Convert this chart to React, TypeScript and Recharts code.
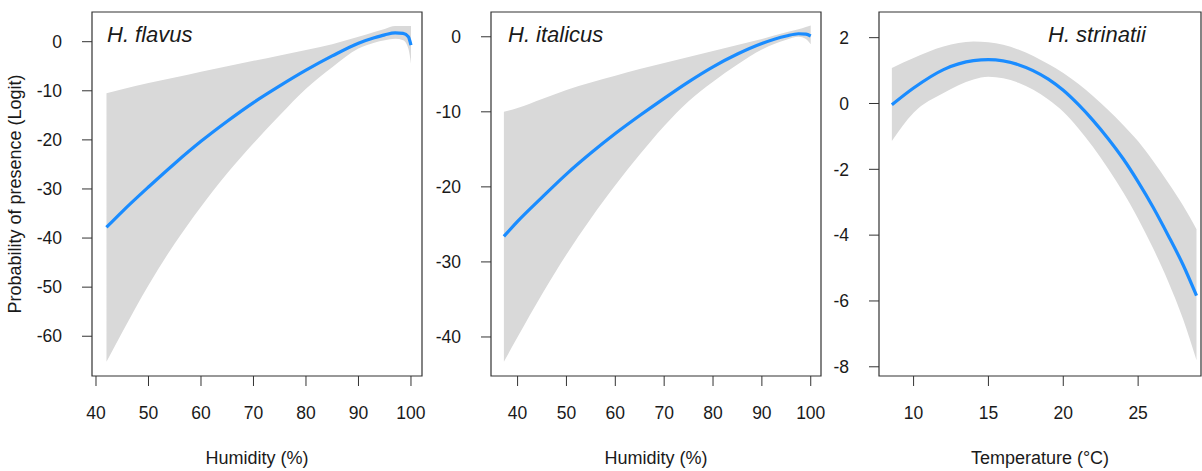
import React from 'react';
import { ComposedChart, Area, Line, XAxis, YAxis, ReferenceArea } from 'recharts';

// H. flavus vs humidity
const flavusHumidity = [42, 45, 50, 55, 60, 65, 70, 75, 80, 85, 90, 93, 95, 97, 98.5, 99.5, 100];
const flavusFit = [-37.8, -34.6, -29.6, -24.8, -20.3, -16.2, -12.4, -9.0, -5.8, -2.9, -0.3, 0.8, 1.4, 1.8, 1.7, 1.0, -0.7];
const flavusLower = [-65.2, -59.2, -49.6, -41.1, -33.6, -26.8, -20.7, -15.0, -9.6, -5.2, -1.4, -0.2, 0.3, 0.6, 0.3, -1.4, -4.5];
const flavusUpper = [-10.5, -9.7, -8.4, -7.3, -6.1, -5.0, -3.9, -2.8, -1.7, -0.5, 1.0, 2.0, 2.6, 3.2, 3.2, 3.2, 3.2];

// H. italicus vs humidity
const italicusHumidity = [37.2, 40, 45, 50, 55, 60, 65, 70, 75, 80, 85, 90, 95, 97.5, 99, 100];
const italicusFit = [-26.6, -24.6, -21.4, -18.3, -15.5, -12.9, -10.5, -8.2, -6.0, -4.0, -2.3, -0.9, 0.1, 0.4, 0.35, 0.1];
const italicusLower = [-43.3, -40.0, -34.3, -29.0, -24.2, -19.8, -15.7, -11.9, -8.6, -6.0, -3.7, -1.7, -0.4, 0.0, -0.3, -1.0];
const italicusUpper = [-10.0, -9.5, -8.3, -7.1, -6.1, -5.2, -4.3, -3.5, -2.7, -1.9, -1.1, -0.3, 0.6, 1.0, 1.3, 1.5];

// H. strinatii vs temperature
const strinatiiTemp = [8.55, 10, 12, 14, 15, 17, 19, 20, 21, 22, 23, 24, 25, 26, 27, 28, 28.9];
const strinatiiFit = [-0.04, 0.47, 1.03, 1.3, 1.33, 1.18, 0.74, 0.4, -0.03, -0.52, -1.07, -1.68, -2.38, -3.15, -4.0, -4.9, -5.84];
const strinatiiLower = [-1.14, -0.28, 0.32, 0.73, 0.81, 0.63, 0.12, -0.25, -0.75, -1.33, -1.98, -2.7, -3.5, -4.4, -5.4, -6.55, -7.8];
const strinatiiUpper = [1.08, 1.38, 1.73, 1.88, 1.86, 1.64, 1.2, 0.93, 0.6, 0.22, -0.2, -0.65, -1.15, -1.75, -2.4, -3.1, -3.82];

const humidityTicks = [40, 50, 60, 70, 80, 90, 100];
const tempTicks = [10, 15, 20, 25];
const flavusYTicks = [-60, -50, -40, -30, -20, -10, 0];
const italicusYTicks = [-40, -30, -20, -10, 0];
const strinatiiYTicks = [-8, -6, -4, -2, 0, 2];

const FONT = '"Liberation Sans", Arial, Helvetica, sans-serif';
const INK = '#1a1a1a';
const AXIS = '#333';
const BAND = '#d9d9d9';
const LINE = '#1a8cff';

interface PanelProps {
  x: number[];
  fit: number[];
  lower: number[];
  upper: number[];
  left: number;
  width: number;
  yAxisWidth: number;
  marginRight: number;
  xDomain: [number, number];
  yDomain: [number, number];
  xTicks: number[];
  yTicks: number[];
  xLabel: string;
  yLabel?: string;
  title: string;
  titleX: number;
}

const Panel: React.FC<PanelProps> = (p) => {
  const rows = p.x.map((v, i) => ({
    x: v,
    fit: p.fit[i],
    band: [p.lower[i], p.upper[i]],
  }));

  const tickStyle = { fill: INK, fontSize: 17.5, fontFamily: FONT };

  return (
    <div style={{ position: 'absolute', left: p.left, top: 0, width: p.width, height: 471 }}>
      <ComposedChart
        width={p.width}
        height={471}
        data={rows}
        margin={{ top: 12, right: p.marginRight, bottom: 0, left: 0 }}
      >
        <XAxis
          dataKey="x"
          type="number"
          domain={p.xDomain}
          ticks={p.xTicks}
          allowDataOverflow
          axisLine={false}
          tickLine={{ stroke: AXIS }}
          tickSize={10}
          tickMargin={21}
          height={95}
          tick={tickStyle}
          label={{ value: p.xLabel, position: 'insideBottom', offset: 7, fill: INK, fontSize: 18, fontFamily: FONT }}
        />
        <YAxis
          type="number"
          domain={p.yDomain}
          ticks={p.yTicks}
          allowDataOverflow
          axisLine={false}
          tickLine={{ stroke: AXIS }}
          tickSize={10}
          tickMargin={20}
          width={p.yAxisWidth}
          tick={tickStyle}
          label={
            p.yLabel
              ? {
                  value: p.yLabel,
                  angle: -90,
                  position: 'insideLeft',
                  offset: 15,
                  fill: INK,
                  fontSize: 18,
                  fontFamily: FONT,
                  style: { textAnchor: 'middle' },
                }
              : undefined
          }
        />
        <Area
          dataKey="band"
          type="monotone"
          fill={BAND}
          fillOpacity={1}
          stroke="none"
          dot={false}
          activeDot={false}
          isAnimationActive={false}
        />
        <Line
          dataKey="fit"
          type="monotone"
          stroke={LINE}
          strokeWidth={3.2}
          dot={false}
          activeDot={false}
          isAnimationActive={false}
        />
        <ReferenceArea
          x1={p.xDomain[0]}
          x2={p.xDomain[1]}
          y1={p.yDomain[0]}
          y2={p.yDomain[1]}
          fill="none"
          stroke={AXIS}
          strokeWidth={1.2}
          ifOverflow="visible"
        />
      </ComposedChart>
      <span
        style={{
          position: 'absolute',
          left: p.titleX - p.left,
          top: 24,
          fontFamily: FONT,
          fontStyle: 'italic',
          fontSize: 22,
          lineHeight: 1,
          color: INK,
          whiteSpace: 'nowrap',
        }}
      >
        {p.title}
      </span>
    </div>
  );
};

export default function App() {
  return (
    <div style={{ position: 'absolute', left: 0, top: 0, width: 1202, height: 471, background: '#fff' }}>
      <Panel
        x={flavusHumidity}
        fit={flavusFit}
        lower={flavusLower}
        upper={flavusUpper}
        left={0}
        width={430}
        yAxisWidth={92}
        marginRight={8}
        xDomain={[39.24, 102.1]}
        yDomain={[-68.1, 6.05]}
        xTicks={humidityTicks}
        yTicks={flavusYTicks}
        xLabel="Humidity (%)"
        yLabel="Probability of presence (Logit)"
        title="H. flavus"
        titleX={107}
      />
      <Panel
        x={italicusHumidity}
        fit={italicusFit}
        lower={italicusLower}
        upper={italicusUpper}
        left={430}
        width={400}
        yAxisWidth={61}
        marginRight={9}
        xDomain={[34.56, 102.1]}
        yDomain={[-45.2, 3.3]}
        xTicks={humidityTicks}
        yTicks={italicusYTicks}
        xLabel="Humidity (%)"
        title="H. italicus"
        titleX={508}
      />
      <Panel
        x={strinatiiTemp}
        fit={strinatiiFit}
        lower={strinatiiLower}
        upper={strinatiiUpper}
        left={830}
        width={372}
        yAxisWidth={49}
        marginRight={1}
        xDomain={[7.69, 29.2]}
        yDomain={[-8.28, 2.78]}
        xTicks={tempTicks}
        yTicks={strinatiiYTicks}
        xLabel="Temperature (°C)"
        title="H. strinatii"
        titleX={1048}
      />
    </div>
  );
}
